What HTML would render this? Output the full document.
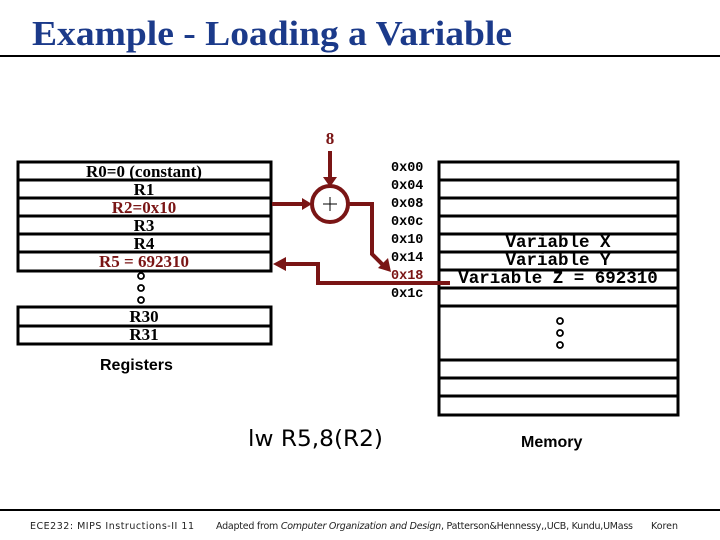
<!DOCTYPE html>
<html><head><style>
body{margin:0;width:720px;height:540px;background:#fff;overflow:hidden}
svg{display:block}
.r{font-family:"Liberation Serif",serif;font-size:17px;text-anchor:middle}
.m{font-family:"Liberation Mono",monospace;font-weight:bold;font-size:13.5px}
.v{font-family:"Liberation Mono",monospace;font-size:17.5px;text-anchor:middle;font-weight:bold}
</style></head><body>
<svg width="720" height="540" xmlns="http://www.w3.org/2000/svg">
<text x="32" y="45" font-family="Liberation Serif,serif" font-weight="bold" font-size="35" fill="#1b3a8a" textLength="480" lengthAdjust="spacingAndGlyphs">Example - Loading a Variable</text>
<line x1="0" y1="56" x2="720" y2="56" stroke="#000" stroke-width="2"/>
<line x1="0" y1="510" x2="720" y2="510" stroke="#000" stroke-width="2"/>
<g fill="none" stroke="#000" stroke-width="3">
<rect x="18" y="162" width="253" height="109"/>
<line x1="18" y1="180" x2="271" y2="180"/><line x1="18" y1="198" x2="271" y2="198"/>
<line x1="18" y1="216" x2="271" y2="216"/><line x1="18" y1="234" x2="271" y2="234"/>
<line x1="18" y1="252" x2="271" y2="252"/>
<rect x="18" y="307" width="253" height="37"/><line x1="18" y1="326" x2="271" y2="326"/>
<rect x="439" y="162" width="239" height="253"/>
<line x1="439" y1="180" x2="678" y2="180"/><line x1="439" y1="198" x2="678" y2="198"/>
<line x1="439" y1="216" x2="678" y2="216"/><line x1="439" y1="234" x2="678" y2="234"/>
<line x1="439" y1="252" x2="678" y2="252"/><line x1="439" y1="270" x2="678" y2="270"/>
<line x1="439" y1="288" x2="678" y2="288"/><line x1="439" y1="306" x2="678" y2="306"/>
<line x1="439" y1="360" x2="678" y2="360"/><line x1="439" y1="378" x2="678" y2="378"/>
<line x1="439" y1="396" x2="678" y2="396"/>
</g>
<g fill="none" stroke="#000" stroke-width="1.8">
<circle cx="141" cy="276" r="3"/><circle cx="141" cy="288" r="3"/><circle cx="141" cy="300" r="3"/>
<circle cx="560" cy="321" r="3"/><circle cx="560" cy="333" r="3"/><circle cx="560" cy="345" r="3"/>
</g>
<g class="r" font-weight="bold">
<text x="144" y="177">R0=0 (constant)</text><text x="144" y="195">R1</text>
<text x="144" y="213" fill="#7a1515">R2=0x10</text><text x="144" y="231">R3</text>
<text x="144" y="249">R4</text><text x="144" y="267" fill="#7a1515">R5 = 692310</text>
<text x="144" y="322">R30</text><text x="144" y="340">R31</text>
</g>
<text x="330" y="144" class="r" font-weight="bold" font-size="21" fill="#7a1515">8</text>
<g class="m">
<text x="391" y="171">0x00</text><text x="391" y="189">0x04</text><text x="391" y="207">0x08</text>
<text x="391" y="225">0x0c</text><text x="391" y="243">0x10</text><text x="391" y="261">0x14</text>
<text x="391" y="279" fill="#7a1515">0x18</text><text x="391" y="297">0x1c</text>
</g>
<g class="v">
<text x="558" y="247">Variable X</text><text x="558" y="265">Variable Y</text><text x="558" y="283">Variable Z = 692310</text>
</g>
<g stroke="#7a1515" stroke-width="4" fill="none">
<circle cx="330" cy="204" r="18"/>
<line x1="330" y1="151" x2="330" y2="178"/>
<line x1="272" y1="204" x2="304" y2="204"/>
<polyline points="348,204 372,204 372,254 384,266"/>
<polyline points="450,283 318,283 318,264 285,264"/>
</g>
<g fill="#7a1515">
<polygon points="323,177 337,177 330,187"/>
<polygon points="302,198 302,210 312,204"/>
<polygon points="378,268 388,258 391,272"/>
<polygon points="286,257 286,271 273,264"/>
</g>
<line x1="323" y1="204" x2="337" y2="204" stroke="#000" stroke-width="1"/>
<line x1="330" y1="197" x2="330" y2="211" stroke="#000" stroke-width="1"/>
<text x="100" y="370" font-family="Liberation Sans,sans-serif" font-weight="bold" font-size="16">Registers</text>
<text x="521" y="447" font-family="Liberation Sans,sans-serif" font-weight="bold" font-size="16">Memory</text>
<text x="248" y="446" font-family="DejaVu Sans,sans-serif" font-size="22" textLength="135" lengthAdjust="spacingAndGlyphs">lw R5,8(R2)</text>
<g font-family="DejaVu Sans,sans-serif" font-size="9.5" fill="#222">
<text x="30" y="529" textLength="164">ECE232: MIPS Instructions-II 11</text>
<text x="216" y="529" textLength="417">Adapted from <tspan font-style="italic">Computer Organization and Design</tspan>, Patterson&amp;Hennessy,,UCB, Kundu,UMass</text>
<text x="651" y="529" textLength="27">Koren</text>
</g>
</svg>
</body></html>
